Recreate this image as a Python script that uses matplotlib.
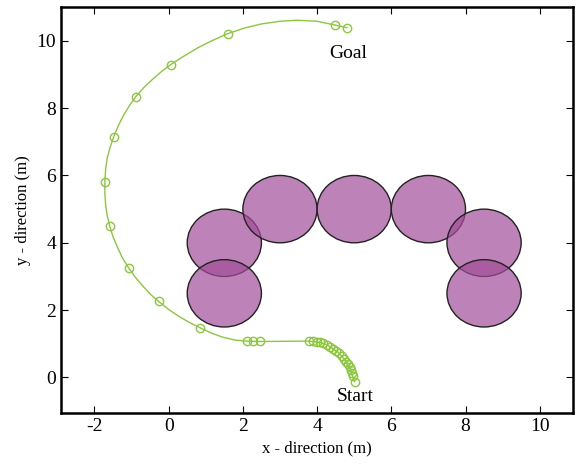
import numpy as np
import matplotlib
matplotlib.use("Agg")
import matplotlib.pyplot as plt
from matplotlib.patches import Circle

plt.rcParams['font.family'] = ['Liberation Serif', 'DejaVu Serif']
plt.rcParams['axes.unicode_minus'] = False

# obstacles (center x, center y), radius
obs_x = [1.5, 1.5, 3.0, 5.0, 7.0, 8.5, 8.5]
obs_y = [4.0, 2.5, 5.0, 5.0, 5.0, 4.0, 2.5]
obs_r = 1.0

# waypoints (markers)
wp_x = [5.01, 4.96, 4.93, 4.91, 4.88, 4.82, 4.77, 4.72, 4.66, 4.58, 4.50, 4.42,
        4.34, 4.26, 4.15, 4.07, 3.99, 3.88, 3.77,
        2.45, 2.26, 2.10, 0.84, -0.27, -1.08, -1.59, -1.72, -1.48, -0.89, 0.05,
        1.59, 4.47, 4.80]
wp_y = [-0.12, 0.03, 0.12, 0.21, 0.30, 0.39, 0.47, 0.56, 0.65, 0.74, 0.80, 0.86,
        0.92, 0.98, 1.01, 1.04, 1.04, 1.07, 1.07,
        1.07, 1.07, 1.07, 1.48, 2.26, 3.26, 4.51, 5.82, 7.15, 8.34, 9.29,
        10.21, 10.47, 10.39]

# path line
path_x = [5.01, 4.96, 4.91, 4.82, 4.72, 4.58, 4.42, 4.26, 4.07, 3.88, 3.77,
          2.45, 2.10, 1.80, 1.45, 1.15, 0.84, 0.55, 0.27, 0.00, -0.27, -0.50,
          -0.70, -0.90, -1.08, -1.25, -1.38, -1.50, -1.59, -1.66, -1.70, -1.72,
          -1.72, -1.70, -1.66, -1.58, -1.48, -1.36, -1.22, -1.06, -0.89, -0.67,
          -0.44, -0.20, 0.05, 0.42, 0.80, 1.20, 1.59, 2.05, 2.50, 3.00, 3.45,
          4.00, 4.47, 4.80]
path_y = [-0.12, 0.03, 0.21, 0.39, 0.56, 0.74, 0.86, 0.98, 1.04, 1.07, 1.08,
          1.07, 1.08, 1.11, 1.20, 1.32, 1.48, 1.64, 1.82, 2.02, 2.26, 2.48,
          2.72, 2.98, 3.26, 3.56, 3.87, 4.18, 4.51, 4.83, 5.15, 5.48,
          5.82, 6.16, 6.50, 6.83, 7.15, 7.47, 7.78, 8.07, 8.34, 8.61,
          8.85, 9.08, 9.29, 9.55, 9.80, 10.02, 10.21, 10.38, 10.50, 10.58, 10.61,
          10.58, 10.47, 10.39]

green = '#8DC63F'

fig = plt.figure(figsize=(5.76, 4.74), dpi=100)
ax = fig.add_axes([0.106, 0.129, 0.889, 0.856])

for cx, cy in zip(obs_x, obs_y):
    ax.add_patch(Circle((cx, cy), obs_r, facecolor='#A24D99', alpha=0.7,
                        edgecolor='none'))
    ax.add_patch(Circle((cx, cy), obs_r, facecolor='none',
                        edgecolor='#222222', linewidth=1.0))

ax.plot(path_x, path_y, color=green, linewidth=1.0)
ax.plot(wp_x, wp_y, linestyle='none', marker='o', markersize=6,
        markerfacecolor='none', markeredgecolor=green, markeredgewidth=1.0)

ax.text(4.85, 9.61, 'Goal', ha='center', va='center', fontsize=14)
ax.text(5.04, -0.56, 'Start', ha='center', va='center', fontsize=14)

ax.set_xlim(-2.9, 10.9)
ax.set_ylim(-1.05, 11.0)
ax.set_xticks([-2, 0, 2, 4, 6, 8, 10])
ax.set_yticks([0, 2, 4, 6, 8, 10])
ax.tick_params(direction='in', top=True, right=True, length=5, labelsize=14)
for s in ax.spines.values():
    s.set_linewidth(1.8)
ax.set_xlabel('x - direction (m)', fontsize=12)
ax.set_ylabel('y - direction (m)', fontsize=12)

fig.savefig('out.png', dpi=100)
